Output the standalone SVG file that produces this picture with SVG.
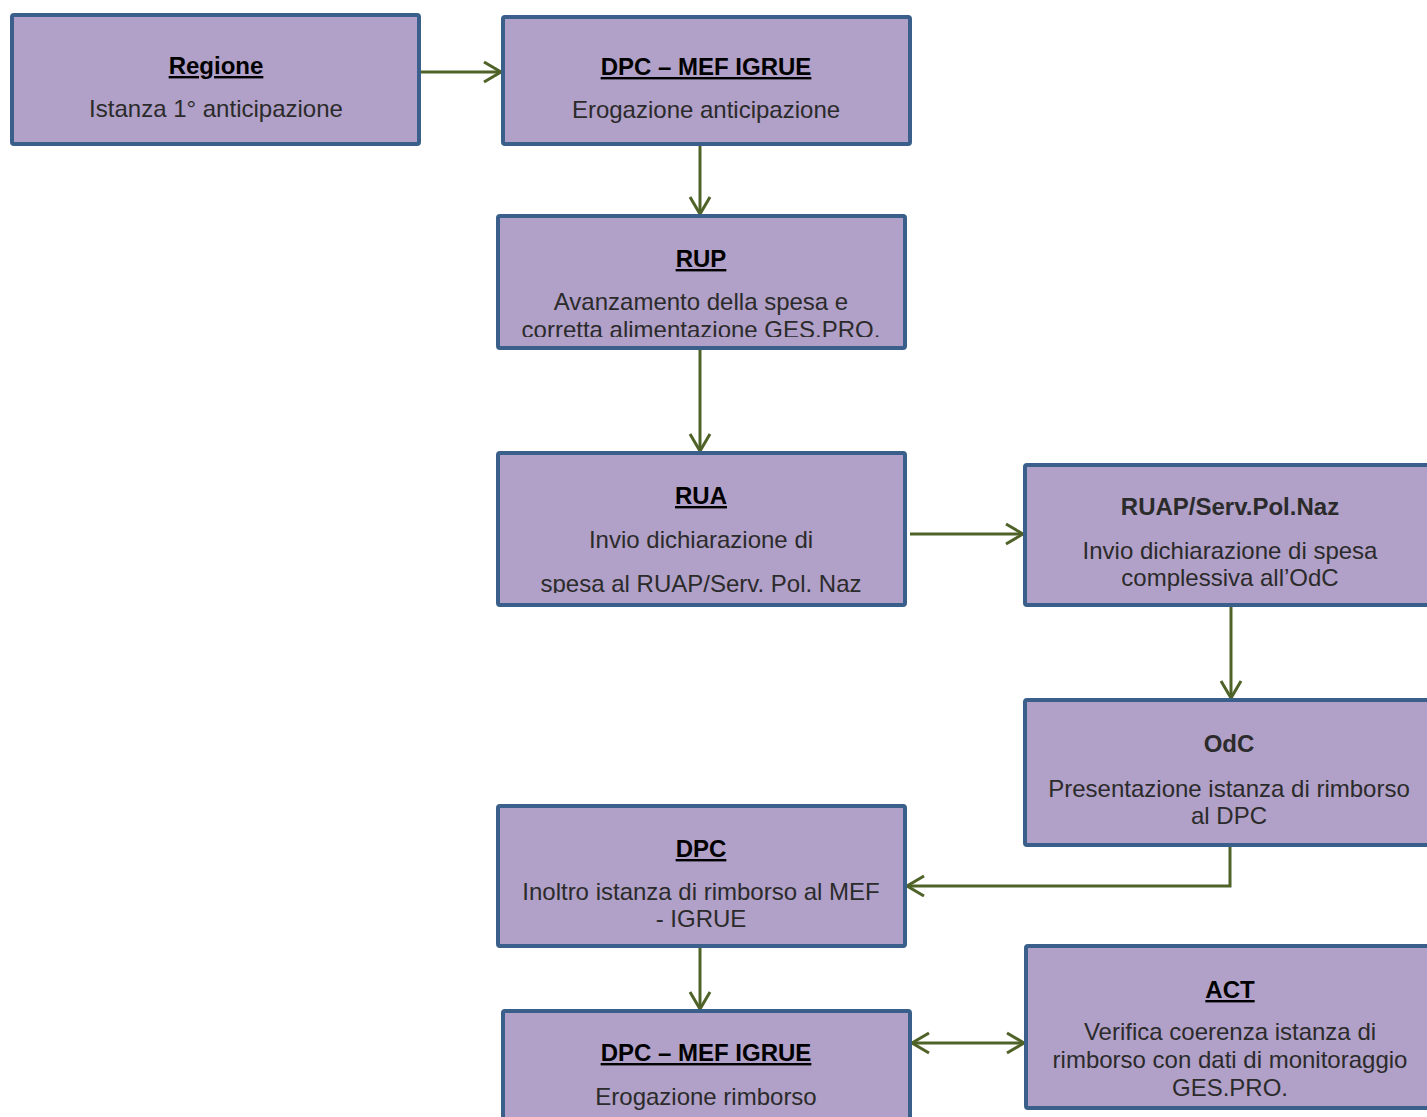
<svg xmlns="http://www.w3.org/2000/svg" width="1427" height="1117" viewBox="0 0 1427 1117">
<style>
.box{fill:#B1A0C7;stroke:#3A5F8B;stroke-width:4}
.t{font-family:"Liberation Sans",Arial,sans-serif;font-size:24px;font-weight:bold;fill:#000;text-anchor:middle;text-decoration:underline}
.tn{font-family:"Liberation Sans",Arial,sans-serif;font-size:24px;font-weight:bold;fill:#2b2b2b;text-anchor:middle}
.b{font-family:"Liberation Sans",Arial,sans-serif;font-size:24px;fill:#2b2b2b;text-anchor:middle}
.c{fill:none;stroke:#4F6228;stroke-width:3}
</style>
<defs>
<marker id="ah" markerUnits="userSpaceOnUse" markerWidth="22" markerHeight="24" viewBox="0 0 22 24" refX="19" refY="12" orient="auto-start-reverse">
<path d="M2,2 L19,12 L2,22" fill="none" stroke="#4F6228" stroke-width="3"/>
</marker>
<clipPath id="clipRup"><rect x="498" y="216" width="407" height="121"/></clipPath>
<clipPath id="clipRua"><rect x="498" y="453" width="407" height="140"/></clipPath>
</defs>
<g id="connectors">
<line class="c" x1="421" y1="72" x2="501" y2="72" marker-end="url(#ah)"/>
<line class="c" x1="700" y1="146" x2="700" y2="214" marker-end="url(#ah)"/>
<line class="c" x1="700" y1="350" x2="700" y2="451" marker-end="url(#ah)"/>
<line class="c" x1="910" y1="534" x2="1023" y2="534" marker-end="url(#ah)"/>
<line class="c" x1="1231" y1="607" x2="1231" y2="698" marker-end="url(#ah)"/>
<polyline class="c" points="1230,847 1230,886 907,886" marker-end="url(#ah)"/>
<line class="c" x1="700" y1="948" x2="700" y2="1009" marker-end="url(#ah)"/>
<line class="c" x1="912" y1="1043" x2="1024" y2="1043" marker-start="url(#ah)" marker-end="url(#ah)"/>
</g>
<g id="regione">
<rect class="box" x="12" y="15" width="407" height="129" rx="2"/>
<text class="t" x="216" y="74">Regione</text>
<text class="b" x="216" y="117">Istanza 1° anticipazione</text>
</g>
<g id="dpc-mef-1">
<rect class="box" x="503" y="17" width="407" height="127" rx="2"/>
<text class="t" x="706" y="75">DPC – MEF IGRUE</text>
<text class="b" x="706" y="118">Erogazione anticipazione</text>
</g>
<g id="rup">
<rect class="box" x="498" y="216" width="407" height="132" rx="2"/>
<text class="t" x="701" y="267">RUP</text>
<g clip-path="url(#clipRup)">
<text class="b" x="701" y="310">Avanzamento della spesa e</text>
<text class="b" x="701" y="338">corretta alimentazione GES.PRO.</text>
</g>
</g>
<g id="rua">
<rect class="box" x="498" y="453" width="407" height="152" rx="2"/>
<text class="t" x="701" y="504">RUA</text>
<g clip-path="url(#clipRua)">
<text class="b" x="701" y="548">Invio dichiarazione di</text>
<text class="b" x="701" y="592">spesa al RUAP/Serv. Pol. Naz</text>
</g>
</g>
<g id="ruap">
<rect class="box" x="1025" y="465" width="410" height="140" rx="2"/>
<text class="tn" x="1230" y="515">RUAP/Serv.Pol.Naz</text>
<text class="b" x="1230" y="559">Invio dichiarazione di spesa</text>
<text class="b" x="1230" y="586">complessiva all’OdC</text>
</g>
<g id="odc">
<rect class="box" x="1025" y="700" width="410" height="145" rx="2"/>
<text class="tn" x="1229" y="752">OdC</text>
<text class="b" x="1229" y="797">Presentazione istanza di rimborso</text>
<text class="b" x="1229" y="824">al DPC</text>
</g>
<g id="dpc">
<rect class="box" x="498" y="806" width="407" height="140" rx="2"/>
<text class="t" x="701" y="857">DPC</text>
<text class="b" x="701" y="900">Inoltro istanza di rimborso al MEF</text>
<text class="b" x="701" y="927">- IGRUE</text>
</g>
<g id="dpc-mef-2">
<rect class="box" x="503" y="1011" width="407" height="130" rx="2"/>
<text class="t" x="706" y="1061">DPC – MEF IGRUE</text>
<text class="b" x="706" y="1105">Erogazione rimborso</text>
</g>
<g id="act">
<rect class="box" x="1026" y="946" width="410" height="162" rx="2"/>
<text class="t" x="1230" y="998">ACT</text>
<text class="b" x="1230" y="1040">Verifica coerenza istanza di</text>
<text class="b" x="1230" y="1068">rimborso con dati di monitoraggio</text>
<text class="b" x="1230" y="1096">GES.PRO.</text>
</g>
</svg>
